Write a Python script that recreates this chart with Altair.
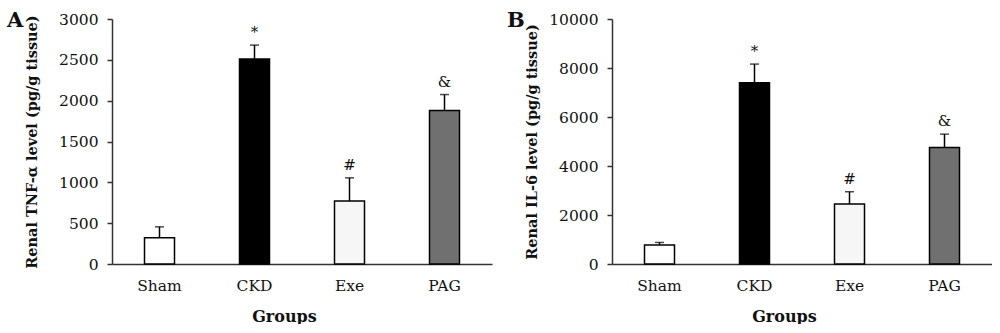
import altair as alt
import pandas as pd

groups = ["Sham", "CKD", "Exe", "PAG"]
tnf_mean = [320, 2510, 770, 1880]
tnf_err = [135, 170, 285, 195]
il6_mean = [780, 7400, 2450, 4760]
il6_err = [100, 760, 500, 540]
sig = ["", "*", "#", "&"]
fills = ["#ffffff", "#000000", "#f6f6f6", "#707070"]

SERIF = "DejaVu Serif"


def panel(means, errs, ytitle, ymax, step, letter):
    df = pd.DataFrame({
        "group": groups,
        "mean": means,
        "top": [m + e for m, e in zip(means, errs)],
        "sig": sig,
    })
    x = alt.X("group:N", sort=groups, title="Groups",
              scale=alt.Scale(paddingInner=0.2, paddingOuter=0.1),
              axis=alt.Axis(labelAngle=0, ticks=False, labelPadding=14,
                            titleX=172, titleY=52, titleBaseline="middle",
                            titleFontSize=16))
    yscale = alt.Scale(domain=[0, ymax], nice=False)
    base = alt.Chart(df)
    bars = base.mark_bar(size=30, stroke="black", strokeWidth=1.5).encode(
        x=x,
        y=alt.Y("mean:Q", scale=yscale, title=ytitle,
                axis=alt.Axis(values=list(range(0, ymax + 1, step)), format="d",
                              tickSize=5, labelPadding=9, titleX=-80,
                              titleY=122.5, titleAngle=270, titleAlign="center",
                              titleBaseline="middle")),
        color=alt.Color("group:N", scale=alt.Scale(domain=groups, range=fills),
                        legend=None),
    )
    stem = base.mark_rule(color="black", strokeWidth=1.5).encode(
        x=alt.X("group:N", sort=groups), y="mean:Q", y2="top:Q")
    cap = base.mark_tick(color="black", thickness=1.5, size=9).encode(
        x=alt.X("group:N", sort=groups), y="top:Q")
    txt = base.mark_text(baseline="bottom", dy=-5, font=SERIF, fontSize=15,
                         color="#111").encode(
        x=alt.X("group:N", sort=groups), y="top:Q", text="sig:N")
    lab = alt.Chart(pd.DataFrame({"t": [letter]})).mark_text(
        align="left", baseline="top", font=SERIF, fontWeight="bold",
        fontSize=21, color="#111").encode(
        x=alt.value(-105), y=alt.value(-9), text="t:N")
    return alt.layer(bars, stem, cap, txt, lab).properties(width=380, height=245)


a = panel(tnf_mean, tnf_err, "Renal TNF-α level (pg/g tissue)", 3000, 500, "A")
b = panel(il6_mean, il6_err, "Renal IL-6 level (pg/g tissue)", 10000, 2000, "B")

chart = alt.hconcat(a, b, spacing=15).properties(
    padding={"left": 7, "top": 10, "right": 0, "bottom": 0}
).configure_view(stroke=None).configure_axis(
    grid=False,
    domainColor="#333",
    domainWidth=1.5,
    tickColor="#333",
    tickWidth=1.5,
    labelFont=SERIF,
    labelFontSize=15.5,
    labelColor="#111",
    titleFont=SERIF,
    titleFontSize=14.5,
    titleFontWeight="bold",
    titleColor="#111",
)

chart.save("out.html", embed_options={"renderer": "svg", "actions": False})
